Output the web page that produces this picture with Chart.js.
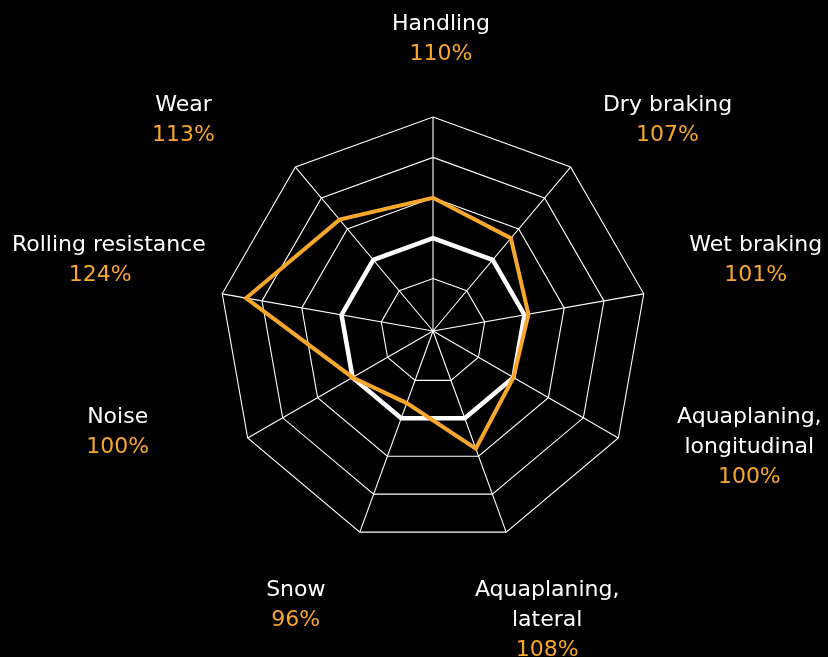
<!DOCTYPE html>
<html><head><meta charset="utf-8">
<script src="https://cdn.jsdelivr.net/npm/chart.js@4"></script>
<style>html,body{margin:0;padding:0;background:#000;overflow:hidden}canvas{display:block}</style>
</head><body>
<canvas id="c" width="828" height="657"></canvas>
<script>
// ---- data ----
const categories = [["Handling"],["Dry braking"],["Wet braking"],["Aquaplaning,","longitudinal"],["Aquaplaning,","lateral"],["Snow"],["Noise"],["Rolling resistance"],["Wear"]];
const testValues = [110, 107, 101, 100, 108, 96, 100, 124, 113];
const referenceValues = [100, 100, 100, 100, 100, 100, 100, 100, 100];
const gridTicks = [90, 100, 110, 120, 130];
const scaleMin = 77;
const scaleMax = 130;

// ---- style / layout ----
const ORANGE = '#f7a72c';
const labelOffsets = [[8,-93],[97,-62],[112,-49],[131,-21],[41,58],[-64,58],[-130,-21],[-122,-49],[-112,-62]];

const labelPlugin = {
  id: 'twoColorLabels',
  afterDraw(chart) {
    const s = chart.scales.r, ctx = chart.ctx;
    ctx.save();
    ctx.font = '22px "DejaVu Sans"';
    ctx.textBaseline = 'middle';
    ctx.textAlign = 'center';
    categories.forEach((lines, i) => {
      const p = s.getPointPosition(i, s.drawingArea);
      const x = p.x + labelOffsets[i][0];
      let y = p.y + labelOffsets[i][1];
      const all = lines.map(t => ({t, c: '#ffffff'})).concat([{t: testValues[i] + '%', c: ORANGE}]);
      all.forEach(l => {
        const w = ctx.measureText(l.t).width;
        let lx = Math.max(x, 12 + w / 2);
        lx = Math.min(lx, chart.width - 4 - w / 2);
        ctx.fillStyle = l.c;
        ctx.fillText(l.t, lx, y);
        y += 30;
      });
    });
    ctx.restore();
  }
};

new Chart(document.getElementById('c'), {
  type: 'radar',
  data: {
    labels: categories.map(c => c.join(' ')),
    datasets: [
      { data: testValues, borderColor: ORANGE, borderWidth: 4, fill: false, pointRadius: 0, pointHoverRadius: 0, borderJoinStyle: 'miter', tension: 0 },
      { data: referenceValues, borderColor: '#ffffff', borderWidth: 4.5, fill: false, pointRadius: 0, pointHoverRadius: 0, borderJoinStyle: 'miter', tension: 0 }
    ]
  },
  options: {
    responsive: false,
    animation: false,
    events: [],
    layout: { padding: { left: 219, right: 181, top: 117, bottom: 112 } },
    plugins: { legend: { display: false }, tooltip: { enabled: false }, title: { display: false } },
    scales: {
      r: {
        min: scaleMin,
        max: scaleMax,
        ticks: { display: false },
        afterBuildTicks: (scale) => { scale.ticks = [scaleMin].concat(gridTicks).map(v => ({ value: v })); },
        grid: { circular: false, color: '#ffffff', lineWidth: 1.1 },
        angleLines: { display: true, color: '#ffffff', lineWidth: 1.1 },
        pointLabels: { display: false }
      }
    }
  },
  plugins: [labelPlugin]
});
</script>
</body></html>
